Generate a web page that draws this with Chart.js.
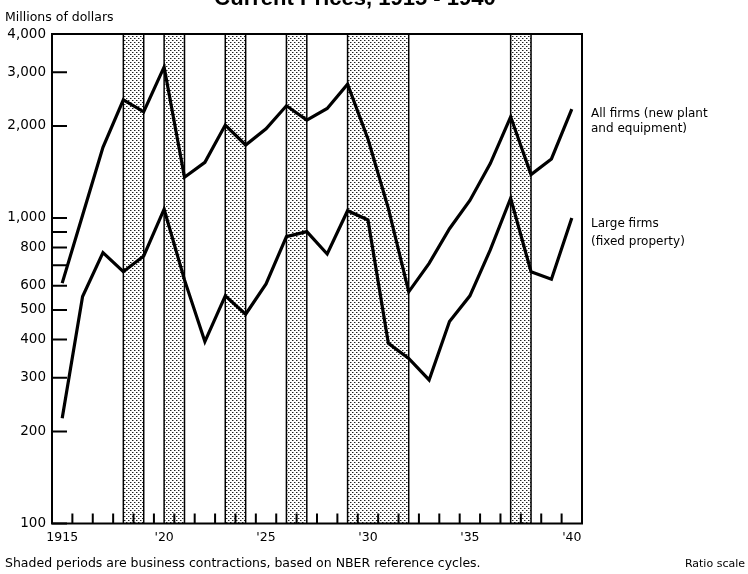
<!DOCTYPE html>
<html><head><meta charset="utf-8">
<script src="https://cdn.jsdelivr.net/npm/chart.js@4/dist/chart.umd.min.js"></script>
<style>html,body{margin:0;padding:0;background:#fff;}#wrap{position:relative;width:748px;height:574px;}</style>
</head><body><div id="wrap"><canvas id="c" width="748" height="574"></canvas></div>
<script>
const years = [1915,1916,1917,1918,1919,1920,1921,1922,1923,1924,1925,1926,1927,1928,1929,1930,1931,1932,1933,1934,1935,1936,1937,1938,1939,1940];
const allFirms = [612,1020,1702,2436,2226,3121,1359,1521,2014,1733,1959,2329,2091,2282,2741,1813,1075,573,710,922,1141,1506,2144,1386,1560,2272];
const largeFirms = [221,553,770,667,751,1068,627,394,556,484,608,869,902,762,1056,985,389,347,295,458,556,786,1160,667,630,1000];
const contractionStart = [1918,1920,1923,1926,1929,1937];
const contractionEnd = [1919,1921,1924,1927,1932,1938];
const yTickValues = [100,200,300,400,500,600,700,800,900,1000,2000,3000,4000];
const yTickLabels = ['100','200','300','400','500','600','','800','','1,000','2,000','3,000','4,000'];
const xTickValues = [1915,1920,1925,1930,1935,1940];
const xTickLabels = ['1915',"'20","'25","'30","'35","'40"];
const yearMarks = [1915.5,1916.5,1917.5,1918.5,1919.5,1920.5,1921.5,1922.5,1923.5,1924.5,1925.5,1926.5,1927.5,1928.5,1929.5,1930.5,1931.5,1932.5,1933.5,1934.5,1935.5,1936.5,1937.5,1938.5,1939.5];

const FONT = '"DejaVu Sans", "Liberation Sans", sans-serif';

function makePattern(ctx){
  const t = document.createElement('canvas');
  t.width = 4; t.height = 4;
  const c = t.getContext('2d');
  c.fillStyle = '#ffffff'; c.fillRect(0,0,4,4);
  c.fillStyle = '#222222';
  c.fillRect(0,0,1,1);
  c.fillRect(2,2,1,1);
  c.fillStyle = '#999999';
  c.fillRect(1,0,1,1);
  c.fillRect(3,2,1,1);
  return ctx.createPattern(t,'repeat');
}

const decorPlugin = {
  id:'decor',
  beforeDatasetsDraw(chart){
    const {ctx, chartArea:a, scales:{x,y}} = chart;
    ctx.save();
    const pat = makePattern(ctx);
    for(let i=0;i<contractionStart.length;i++){
      const x0 = x.getPixelForValue(contractionStart[i]);
      const x1 = x.getPixelForValue(contractionEnd[i]);
      ctx.fillStyle = pat;
      ctx.fillRect(x0, a.top, x1-x0, a.bottom-a.top);
      ctx.strokeStyle = '#000'; ctx.lineWidth = 1.5;
      ctx.beginPath();
      ctx.moveTo(x0, a.top); ctx.lineTo(x0, a.bottom);
      ctx.moveTo(x1, a.top); ctx.lineTo(x1, a.bottom);
      ctx.stroke();
    }
    ctx.strokeStyle = '#000'; ctx.lineWidth = 2;
    ctx.beginPath();
    for(const v of yTickValues){
      const py = y.getPixelForValue(v);
      ctx.moveTo(a.left, py); ctx.lineTo(a.left+15, py);
    }
    for(const v of yearMarks){
      const px = x.getPixelForValue(v);
      ctx.moveTo(px, a.bottom); ctx.lineTo(px, a.bottom-10);
    }
    ctx.stroke();
    ctx.lineWidth = 2;
    ctx.strokeRect(a.left, a.top, a.right-a.left, a.bottom-a.top);
    ctx.restore();
  },
  afterDraw(chart){
    const ctx = chart.ctx;
    ctx.save();
    ctx.fillStyle = '#000';
    ctx.textBaseline = 'alphabetic';
    ctx.textAlign = 'center';
    ctx.font = 'bold 22px "Liberation Sans", sans-serif';
    ctx.fillText('Current Prices, 1915 - 1940', 355, 5);
    ctx.textAlign = 'left';
    ctx.font = '12.5px ' + FONT;
    ctx.fillText('Millions of dollars', 5, 21);
    ctx.font = '12px ' + FONT;
    ctx.fillText('All firms (new plant', 591, 117);
    ctx.fillText('and equipment)', 591, 132);
    ctx.fillText('Large firms', 591, 227);
    ctx.fillText('(fixed property)', 591, 245);
    ctx.font = '12.5px ' + FONT;
    ctx.fillText('Shaded periods are business contractions, based on NBER reference cycles.', 5, 567);
    ctx.textAlign = 'right';
    ctx.font = '11px ' + FONT;
    ctx.fillText('Ratio scale', 745, 567);
    ctx.restore();
  }
};

const ctx = document.getElementById('c').getContext('2d');
new Chart(ctx, {
  type:'line',
  data:{datasets:[
    {label:'All firms', data: years.map((yr,i)=>({x:yr,y:allFirms[i]})), borderColor:'#000', borderWidth:3.2, pointRadius:0, tension:0, fill:false},
    {label:'Large firms', data: years.map((yr,i)=>({x:yr,y:largeFirms[i]})), borderColor:'#000', borderWidth:3.2, pointRadius:0, tension:0, fill:false}
  ]},
  options:{
    responsive:false, animation:false, devicePixelRatio:1,
    layout:{padding:{top:34, right:166, left:0, bottom:0}},
    plugins:{legend:{display:false}, tooltip:{enabled:false}},
    scales:{
      x:{type:'linear', min:1914.5, max:1940.5,
        afterBuildTicks: s=>{ s.ticks = xTickValues.map(v=>({value:v})); },
        ticks:{callback:(v)=>xTickLabels[xTickValues.indexOf(v)], color:'#000', font:{family:FONT, size:12.5}, padding:7, maxRotation:0, autoSkip:false},
        grid:{display:false, drawTicks:false}, border:{display:false},
        afterFit: s=>{ s.height = 50.5; }
      },
      y:{type:'logarithmic', min:100, max:4000,
        afterBuildTicks: s=>{ s.ticks = yTickValues.map(v=>({value:v})); },
        ticks:{callback:(v)=>yTickLabels[yTickValues.indexOf(v)], color:'#000', font:{family:FONT, size:13.5}, padding:6, autoSkip:false},
        grid:{display:false, drawTicks:false}, border:{display:false},
        afterFit: s=>{ s.width = 52; }
      }
    }
  },
  plugins:[decorPlugin]
});
</script></body></html>
